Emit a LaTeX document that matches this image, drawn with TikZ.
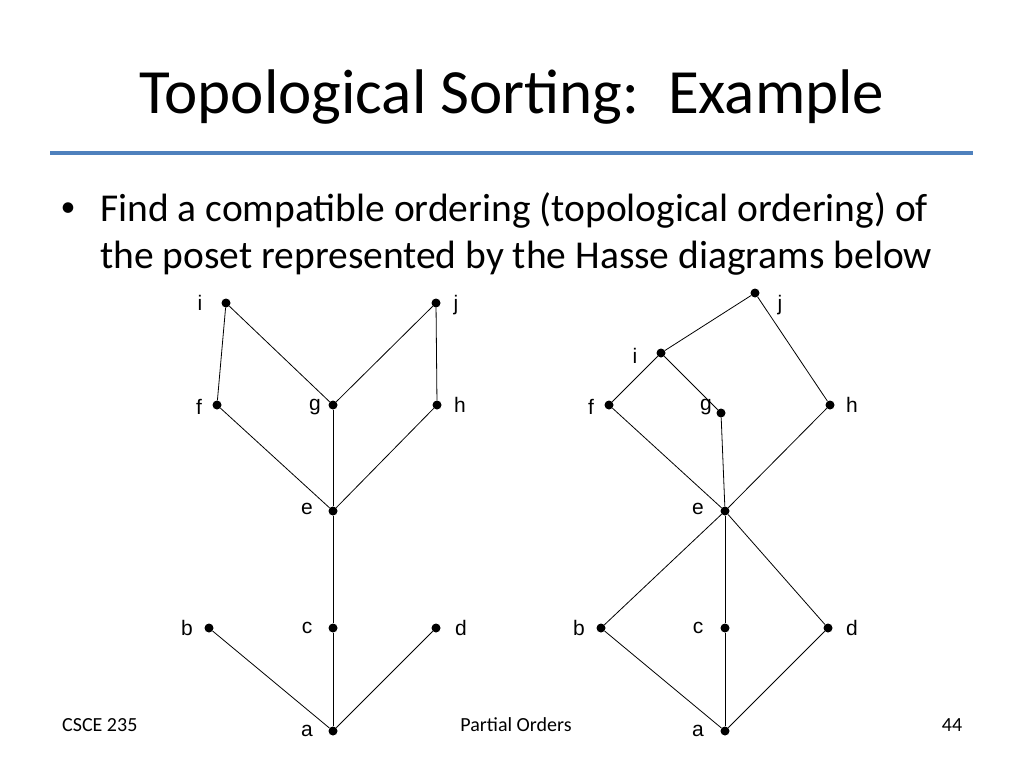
\documentclass[tikz,border=0pt]{standalone}
\usepackage{fontspec}
\setmainfont{Carlito}
\newfontfamily\lab{Liberation Sans}
\begin{document}
\begin{tikzpicture}[x=1pt,y=-1pt,
  v/.style={circle,fill=black,inner sep=0pt,minimum size=9pt},
  lb/.style={font=\lab\fontsize{21}{21}\selectfont,inner sep=0pt},
  ed/.style={line width=0.8pt}]
\useasboundingbox (0,0) rectangle (1024,768);
\node[font=\fontsize{63}{63}\selectfont] (title) at (512,97) {Topological Sorting:\ \ Example};
\draw[line width=3.5pt,color={rgb,255:red,79;green,129;blue,189}] (50,153) -- (973,153);
\node[font=\fontsize{30}{30}\selectfont,inner sep=0pt] (bl) at (68,210) {\textbullet};
\node[anchor=west,align=left,font=\fontsize{39.5}{47}\selectfont,inner sep=0pt] (txt) at (100,234) {Find a compatible ordering (topological ordering) of\\the poset represented by the Hasse diagrams below};
\begin{scope}[font=\fontsize{20}{20}\selectfont]
\node[anchor=west,inner sep=0pt] (f1) at (62,725) {CSCE 235};
\node (f2) at (516,725) {Partial Orders};
\node (f3) at (952,725) {44};
\end{scope}
% left
\foreach \n/\x/\y/\lx/\ly in {i/226/303/200/303, j/436/303/456/305, f/217/405/199/407, g/333/405/315/407, h/437/405/460/405, e/333/511/307/509, b/209/628/187/628, c/333/628/307/628, d/436/628/461/628, a/333/731/307/731}{
  \node[v] (L\n) at (\x,\y) {};
  \node[lb] (LL\n) at (\lx,\ly) {\n};
}
\foreach \p/\q in {i/f,i/g,j/g,j/h,f/e,g/e,h/e,e/c,c/a,b/a,d/a}{\draw[ed] (L\p) -- (L\q);}
% right
\foreach \n/\x/\y/\lx/\ly in {j/755/293/780/305, i/661/353/635/356, f/609/405/591/407, g/721/413/706/407, h/830/405/852/405, e/725/511/698/509, b/601/628/579/628, c/725/628/698/628, d/828/628/852/628, a/725/731/698/731}{
  \node[v] (R\n) at (\x,\y) {};
  \node[lb] (RL\n) at (\lx,\ly) {\n};
}
\foreach \p/\q in {j/i,j/h,i/f,i/g,f/e,g/e,h/e,e/b,e/c,e/d,b/a,c/a,d/a}{\draw[ed] (R\p) -- (R\q);}
\end{tikzpicture}
\end{document}
